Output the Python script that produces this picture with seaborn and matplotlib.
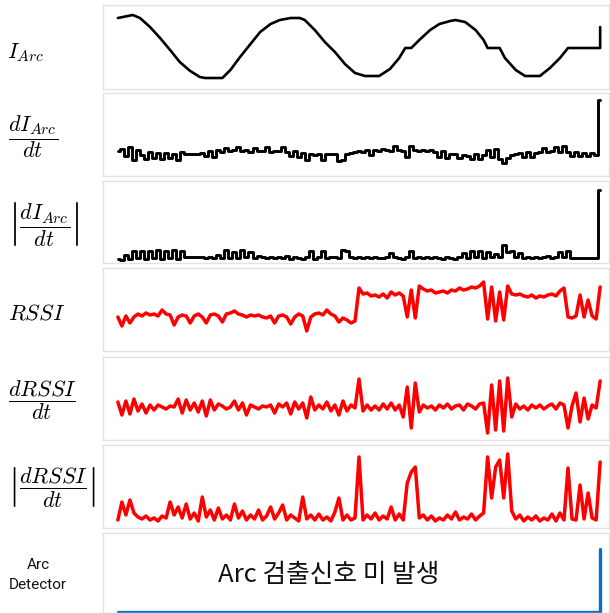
import numpy as np
import pandas as pd
import matplotlib
matplotlib.use("Agg")
import matplotlib.pyplot as plt
import seaborn as sns

# ---------------- data ----------------
# I_Arc (key samples along the common sample axis)
t_iarc = [0, 3.7, 5.5, 8, 10.5, 13, 15.4, 18, 20.4, 21.7, 26, 28, 30.4, 33, 35.4,
          38, 40.3, 43, 45.3, 46.5, 49, 51.5, 54, 56.5, 59, 61.5, 65, 67.7, 70, 71.5,
          73, 75, 77.7, 80, 82.7, 84, 86.4, 89, 91, 92, 95, 96.3, 99, 101.3, 105,
          107.5, 110, 112, 120, 120]
i_arc = [71, 74, 71, 62, 51, 39, 27, 18, 12, 11, 11, 19, 32, 45, 57,
         65, 69, 71, 71, 69, 59, 47, 37, 25, 16, 13, 13, 20, 31, 41,
         41, 49, 59, 65, 68, 69, 67, 59, 49, 41, 41, 31, 19, 13, 13,
         21, 31, 41, 41, 62]

d_iarc = [2, 4, -3, 6, -7, 3, -2, -6, 1, -5,
          0, -6, 0, -5, -1, -7, 1, -1, -1, -1,
          -1, 0, -3, 2, -4, 3, 1, 5, 2, 3,
          6, 2, 3, 1, 5, 2, 2, 6, 1, 2,
          2, 6, 1, -3, 2, -4, 0, -7, -1, -2,
          -1, -7, -1, -1, -1, -8, -7, -1, 0, 1,
          2, 1, 3, -2, 3, 2, 4, 3, 2, 7,
          3, 2, -4, 7, 3, 2, 3, 2, 3, 1,
          -4, 2, -5, -1, -1, -5, -2, -3, -6, -1,
          -6, -2, 3, -4, 4, -6, -10, -5, -2, -1,
          0, -4, 1, -4, 0, 1, 5, 1, 2, 6,
          1, 7, 1, -3, 1, -3, 0, -3, 0, -2,
          53]

abs_d_iarc = [1, 0, 5, 1, 9, 2, 9, 1, 9, 2,
              10, 1, 9, 2, 10, 1, 9, 3, 3, 3,
              3, 3, 2, 3, 2, 5, 2, 10, 2, 8,
              2, 10, 3, 8, 2, 4, 3, 2, 3, 2,
              3, 2, 4, 1, 3, 2, 1, 3, 9, 1,
              3, 9, 2, 3, 3, 2, 10, 9, 3, 2,
              3, 2, 3, 2, 3, 2, 2, 3, 7, 3,
              2, 1, 3, 9, 2, 3, 2, 3, 2, 3,
              2, 1, 3, 2, 1, 3, 7, 2, 9, 3,
              9, 2, 8, 3, 6, 3, 15, 8, 9, 3,
              7, 2, 3, 2, 3, 2, 3, 4, 2, 3,
              8, 3, 9, 2, 2, 2, 2, 2, 2, 2,
              70]

rssi = [33, 24, 34, 27, 33, 36, 34, 37, 35, 36,
        34, 40, 36, 35, 25, 33, 35, 34, 27, 34,
        36, 33, 27, 35, 36, 34, 28, 36, 37, 39,
        36, 35, 33, 35, 34, 35, 33, 32, 34, 27,
        34, 35, 33, 26, 33, 36, 34, 19, 33, 36,
        37, 35, 40, 36, 34, 28, 32, 30, 27, 29,
        62, 56, 57, 54, 55, 53, 56, 52, 58, 55,
        57, 54, 33, 60, 32, 64, 61, 59, 60, 57,
        58, 59, 57, 60, 59, 62, 60, 61, 63, 62,
        64, 68, 31, 63, 29, 58, 30, 64, 56, 55,
        56, 54, 53, 55, 52, 54, 53, 55, 56, 54,
        59, 62, 33, 32, 34, 55, 33, 50, 34, 31,
        63]

d_rssi = [5, -8, 6, -7, 8, -4, 3, -6, 2, -3,
          2, 0, -2, 1, 0, 8, -6, 7, -3, 4,
          -5, 6, -9, 7, -3, 3, 1, -2, 0, 6,
          -3, 4, -8, 2, 0, -2, 1, 0, 2, -6,
          3, 0, 4, -7, 5, -2, 4, -11, 10, -3,
          2, -2, 5, -4, 2, -8, 6, -4, 2, -1,
          28, -4, 2, -3, 1, -3, 3, -2, 4, -3,
          2, -10, 20, -21, 24, -5, 2, -1, 1, -3,
          2, -1, 3, -2, 1, 2, -3, 3, 1, -2,
          3, 4, -26, 22, -23, 26, -24, 29, -10, 3,
          -2, 1, -3, 2, -1, 2, -2, 1, 3, -2,
          4, 2, -21, 1, 14, -15, 9, -12, 2, -1,
          26]

abs_d_rssi = [3, 21, 8, 23, 10, 6, 4, 7, 3, 5,
              2, 7, 5, 21, 8, 16, 5, 19, 4, 10,
              2, 26, 6, 13, 3, 15, 4, 8, 3, 19,
              5, 12, 3, 8, 4, 13, 3, 7, 16, 4,
              10, 18, 3, 8, 5, 2, 26, 4, 8, 3,
              9, 3, 6, 2, 11, 25, 3, 8, 3, 5,
              66, 3, 8, 4, 10, 3, 7, 4, 16, 3,
              9, 3, 40, 51, 56, 5, 8, 3, 7, 2,
              5, 3, 8, 4, 11, 3, 6, 4, 9, 3,
              7, 10, 66, 25, 56, 63, 25, 69, 12, 4,
              8, 2, 6, 3, 7, 2, 5, 3, 9, 2,
              10, 3, 55, 4, 3, 38, 4, 30, 5, 3,
              61]

t_det = [0, 120, 120]
arc_det = [0, 0, 1]

labels = [r"$I_{Arc}$",
          r"$\dfrac{dI_{Arc}}{dt}$",
          r"$\left|\dfrac{dI_{Arc}}{dt}\right|$",
          r"$RSSI$",
          r"$\dfrac{dRSSI}{dt}$",
          r"$\left|\dfrac{dRSSI}{dt}\right|$"]
det_label = "Arc\nDetector"
det_text = "Arc 검출신호 미 발생"

# ---------------- figure ----------------
sns.set_theme(style="white")
plt.rcParams["mathtext.fontset"] = "cm"
plt.rcParams["font.family"] = ["DejaVu Sans"]

W, H = 610, 613
fig = plt.figure(figsize=(W / 100, H / 100), dpi=100)

# panel pixel boxes (top, bottom)
boxes = [(5, 89), (93, 176), (181, 263), (268, 351), (357, 440), (445, 528), (533, 613)]
left_px, right_px = 103, 609

def make_ax(top, bot):
    return fig.add_axes([left_px / W, 1 - bot / H, (right_px - left_px) / W, (bot - top) / H])

t = np.arange(len(d_iarc))
series = [
    (pd.DataFrame({"t": t_iarc, "v": i_arc}), "black", 1.9, (0, 84), "default"),
    (pd.DataFrame({"t": t, "v": d_iarc}), "black", 2.1, (-23, 60), "steps-mid"),
    (pd.DataFrame({"t": t, "v": abs_d_iarc}), "black", 2.1, (-3, 79), "steps-mid"),
    (pd.DataFrame({"t": t, "v": rssi}), "#ff0000", 2.5, (-1, 82), "default"),
    (pd.DataFrame({"t": t, "v": d_rssi}), "#ff0000", 2.5, (-33, 50), "default"),
    (pd.DataFrame({"t": t, "v": abs_d_rssi}), "#ff0000", 2.5, (-5, 78), "default"),
]

xlim = (-3.7, 122.2)
axes = []
for (top, bot), (df, col, lw, yl, ds) in zip(boxes[:6], series):
    ax = make_ax(top, bot)
    sns.lineplot(data=df, x="t", y="v", ax=ax, color=col, linewidth=lw,
                 estimator=None, sort=False, drawstyle=ds)
    ax.set_xlim(*xlim)
    ax.set_ylim(*yl)
    axes.append(ax)

# detector panel
ax7 = make_ax(*boxes[6])
sns.lineplot(x=t_det, y=arc_det, ax=ax7, color="#0a6ec4", linewidth=2.4,
             estimator=None, sort=False)
ax7.set_xlim(*xlim)
ax7.set_ylim(-0.016, 1.254)
ax7.text(0.446, 0.47, det_text, transform=ax7.transAxes, ha="center", va="center",
         fontsize=18.5, family=["Noto Sans CJK KR", "DejaVu Sans"], color="#111111")
axes.append(ax7)

for ax in axes:
    ax.set_xlabel("")
    ax.set_ylabel("")
    ax.set_xticks([])
    ax.set_yticks([])
    ax.set_facecolor("white")
    for s in ax.spines.values():
        s.set_color("#e2e2e2")
        s.set_linewidth(1.0)

# left labels (x px, y px center)
label_pos = [(7, 53), (8, 137), (8, 224), (8, 314), (8, 400), (8, 487)]
for lab, (lx, ly) in zip(labels, label_pos):
    fig.text(lx / W, 1 - ly / H, lab, ha="left", va="center", fontsize=16, color="black")

fig.text(38 / W, 1 - 575 / H, det_label, ha="center", va="center", fontsize=11,
         family=["Liberation Sans Narrow", "Roboto", "DejaVu Sans"],
         linespacing=1.55, color="#111111")

fig.savefig("out.png", dpi=100, facecolor="white")
